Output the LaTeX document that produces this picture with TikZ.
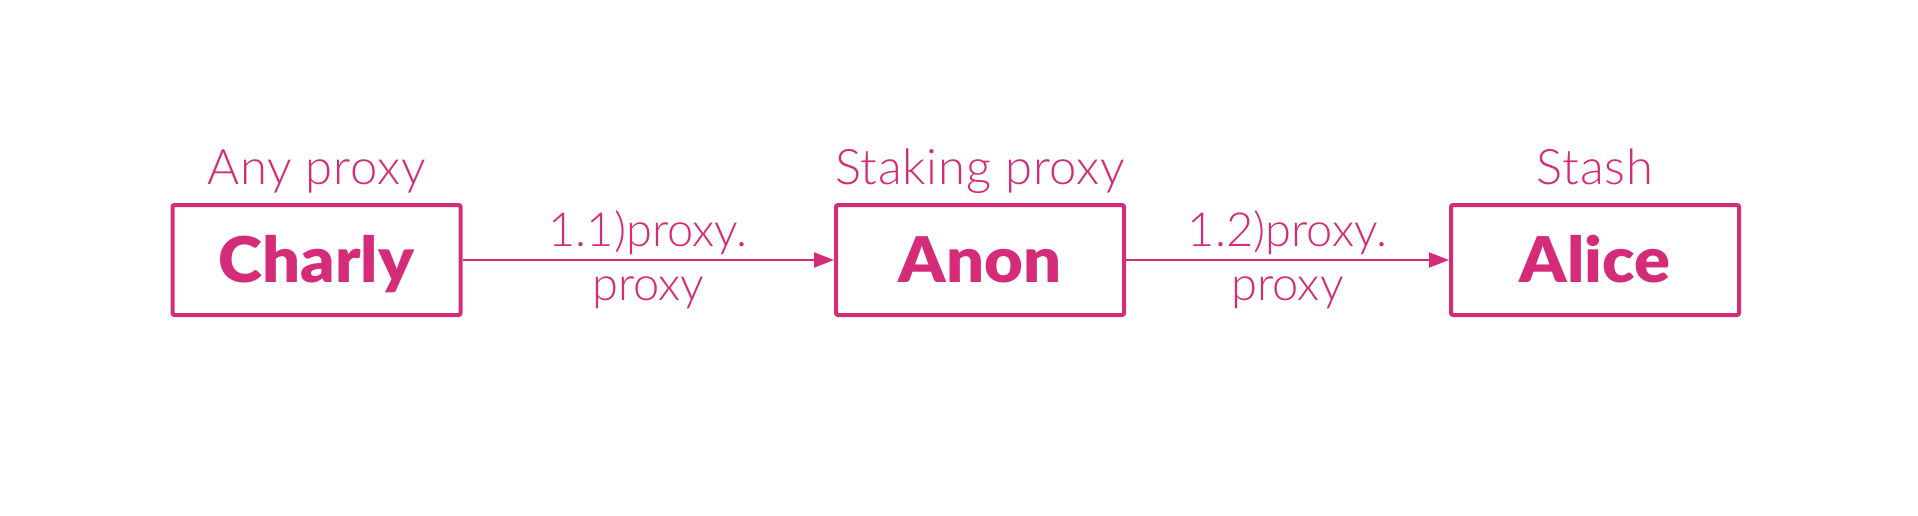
\documentclass[tikz,border=0pt]{standalone}
\usepackage{fontspec}
\usetikzlibrary{arrows.meta}
\newfontfamily\lightf{Lato Light}
\newfontfamily\lightsp[LetterSpace=1.5]{Lato Light}
\newfontfamily\heavyf[FakeStretch=1.06]{Lato Black}
\definecolor{pk}{RGB}{212,44,121}
\tikzset{
  boxnode/.style={draw=pk, line width=4pt, rounded corners=2pt, minimum width=288pt, minimum height=110pt, inner sep=0pt, text height=50pt, text depth=6pt, text=pk, font=\heavyf\fontsize{63}{63}\selectfont},
  toplabel/.style={anchor=base, inner sep=0pt, text=pk, font=\lightsp\fontsize{49}{49}\selectfont},
  edgelabel/.style={anchor=base, inner sep=0pt, text=pk, font=\lightf\fontsize{47}{47}\selectfont},
  conn/.style={draw=pk, line width=2pt, -{Triangle[length=20pt,width=15pt]}}
}
\begin{document}
\begin{tikzpicture}[x=1pt,y=-1pt]
\path[use as bounding box, fill=white] (0,0) rectangle (1918,516);
\node[boxnode] (charly) at (316.5,260) {Charly};
\node[boxnode] (anon) at (980,260) {Anon};
\node[boxnode] (alice) at (1595,260) {Alice};
\node[toplabel] (lcharly) at (316.5,184.5) {Any proxy};
\node[toplabel] (lanon) at (980,184.5) {Staking proxy};
\node[toplabel] (lalice) at (1595,184.5) {Stash};
\draw[conn] (charly) -- node[edgelabel, yshift=13.3pt] (e1a) {1.1)proxy.} node[edgelabel, yshift=-40pt] (e1b) {proxy} (anon);
\draw[conn] (anon) -- node[edgelabel, yshift=13.3pt] (e2a) {1.2)proxy.} node[edgelabel, yshift=-40pt] (e2b) {proxy} (alice);
\end{tikzpicture}
\end{document}
